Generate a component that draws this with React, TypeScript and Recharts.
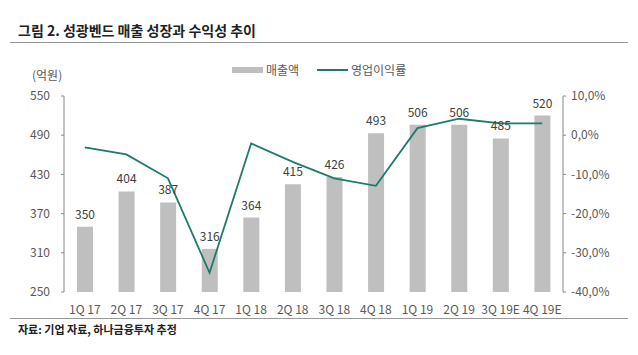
import { ComposedChart, Bar, Line, XAxis, YAxis, LabelList } from 'recharts'

const quarters = ['1Q 17', '2Q 17', '3Q 17', '4Q 17', '1Q 18', '2Q 18', '3Q 18', '4Q 18', '1Q 19', '2Q 19', '3Q 19E', '4Q 19E']
const sales = [350, 404, 387, 316, 364, 415, 426, 493, 506, 506, 485, 520]
const margin = [-3.1, -4.9, -11.0, -35.1, -2.1, -6.8, -11.0, -12.9, 1.8, 4.2, 3.0, 3.0]

const leftTicks = [250, 310, 370, 430, 490, 550]
const rightTicks = [-40, -30, -20, -10, 0, 10]

const FONT = '"Noto Sans CJK KR", "Noto Sans", sans-serif'
const TEAL = '#1e7b6c'
const BAR = '#bfbfbf'
const TXT = '#595959'

const data = quarters.map((q, i) => ({ q, idx: i + 0.5, sales: sales[i], margin: margin[i] }))

const pct = (v: number) => `${v.toFixed(1).replace('.', ',')}%`

export default function App() {
  return (
    <div style={{ position: 'absolute', left: 0, top: 0, width: 638, height: 355, background: '#fff', fontFamily: FONT }}>
      <div style={{ position: 'absolute', left: 18, top: 20, fontSize: 14, fontWeight: 700, color: '#222', whiteSpace: 'nowrap' }}>
        그림 2. 성광벤드 매출 성장과 수익성 추이
      </div>
      <div style={{ position: 'absolute', left: 10, top: 42, width: 618, height: 1, background: '#999' }} />

      <div style={{ position: 'absolute', left: 32, top: 66, fontSize: 12, color: TXT }}>(억원)</div>

      {/* legend */}
      <div style={{ position: 'absolute', left: 232, top: 67, width: 31, height: 6, background: BAR }} />
      <div style={{ position: 'absolute', left: 266, top: 61, fontSize: 12, color: TXT }}>매출액</div>
      <div style={{ position: 'absolute', left: 317, top: 69, width: 31, height: 2, background: TEAL }} />
      <div style={{ position: 'absolute', left: 351, top: 61, fontSize: 12, color: TXT }}>영업이익률</div>

      <div style={{ position: 'absolute', left: 0, top: 0 }}>
        <ComposedChart width={638} height={355} data={data} margin={{ top: 96, right: 0, bottom: 33, left: 0 }}>
          <XAxis
            xAxisId="grid"
            dataKey="idx"
            type="number"
            domain={[0, 12]}
            ticks={[0, 1, 2, 3, 4, 5, 6, 7, 8, 9, 10, 11, 12]}
            tickFormatter={() => ''}
            height={0}
            tickSize={3}
            axisLine={{ stroke: '#888' }}
            tickLine={{ stroke: '#888' }}
          />
          <XAxis
            dataKey="q"
            interval={0}
            height={30}
            axisLine={false}
            tickLine={false}
            tickSize={4}
            tickMargin={9}
            tick={{ fontSize: 12, fill: TXT, fontFamily: FONT }}
          />
          <YAxis
            yAxisId="left"
            domain={[250, 550]}
            ticks={leftTicks}
            width={64}
            tickSize={3}
            tickMargin={11}
            axisLine={{ stroke: '#888' }}
            tickLine={{ stroke: '#888' }}
            tick={{ fontSize: 12, fill: TXT, fontFamily: FONT }}
          />
          <YAxis
            yAxisId="right"
            orientation="right"
            domain={[-40, 10]}
            ticks={rightTicks}
            width={75}
            tickSize={3}
            tickMargin={5}
            tickFormatter={pct}
            axisLine={{ stroke: '#888' }}
            tickLine={{ stroke: '#888' }}
            tick={{ fontSize: 12, fill: TXT, fontFamily: FONT, textAnchor: 'start' }}
          />
          <Bar yAxisId="left" dataKey="sales" fill={BAR} barSize={16} isAnimationActive={false}>
            <LabelList dataKey="sales" position="top" offset={8} style={{ fontSize: 12, fill: '#404040', fontFamily: FONT }} />
          </Bar>
          <Line
            yAxisId="right"
            dataKey="margin"
            stroke={TEAL}
            strokeWidth={1.8}
            dot={false}
            isAnimationActive={false}
          />
        </ComposedChart>
      </div>

      <div style={{ position: 'absolute', left: 10, top: 318, width: 618, height: 1, background: '#999' }} />
      <div style={{ position: 'absolute', left: 18, top: 321, fontSize: 11, fontWeight: 700, color: '#222', whiteSpace: 'nowrap' }}>
        자료: 기업 자료, 하나금융투자 추정
      </div>
    </div>
  )
}
